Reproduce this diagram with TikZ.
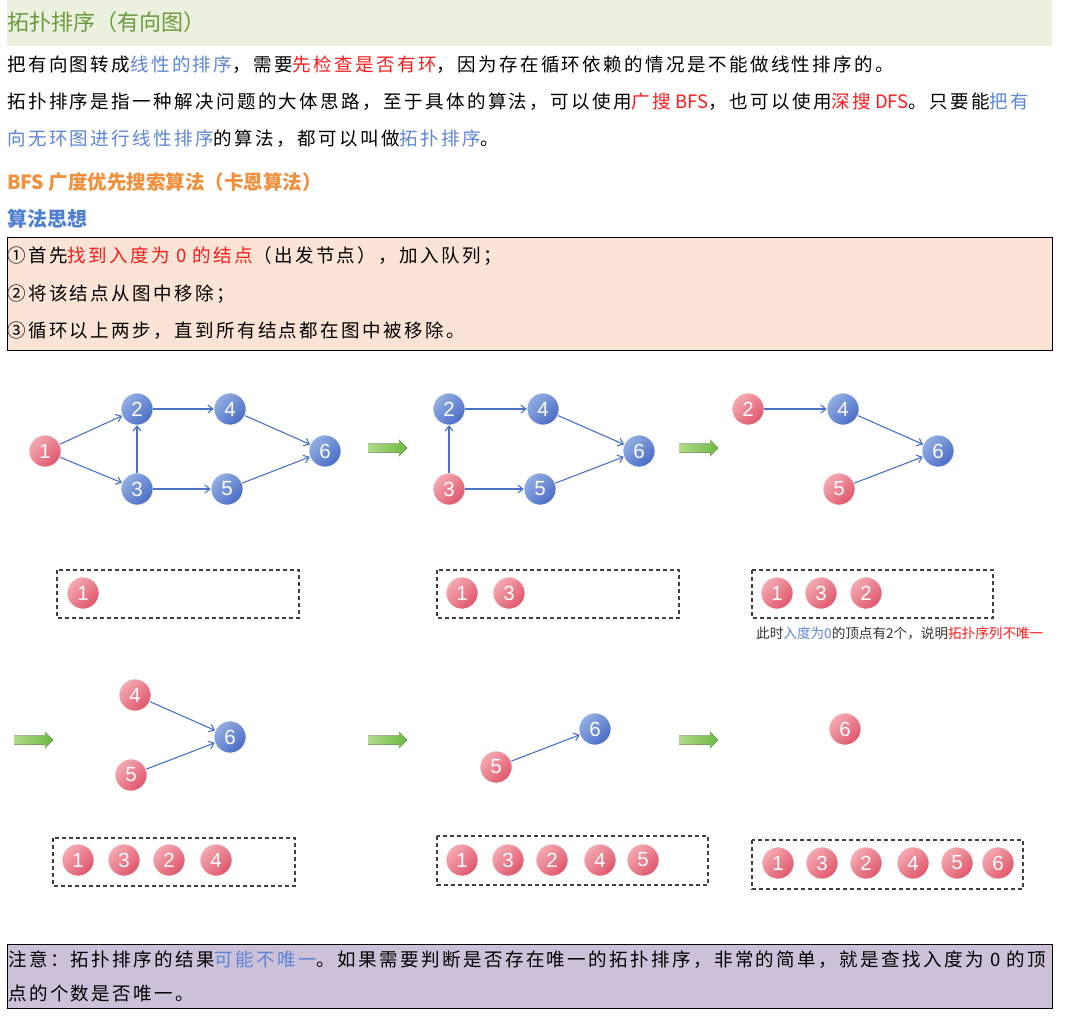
\documentclass[tikz,border=0pt]{standalone}
\usepackage{fontspec}
\setmainfont{Noto Sans CJK SC}
\newfontfamily\bodyfont[LetterSpace=13]{Noto Sans CJK SC}
\newfontfamily\numfont{Liberation Sans}
\usetikzlibrary{arrows.meta}

\definecolor{bandgreen}{HTML}{EBF1DE}
\definecolor{titlegreen}{HTML}{6B9A3C}
\definecolor{txtblue}{HTML}{5C85D6}
\definecolor{txtred}{HTML}{FF1A1A}
\definecolor{headorange}{HTML}{F0903C}
\definecolor{headblue}{HTML}{4F7FD0}
\definecolor{peach}{HTML}{FBE4D5}
\definecolor{lavender}{HTML}{CDC1DA}
\definecolor{vblueA}{HTML}{93AEE2}
\definecolor{vblueB}{HTML}{4A6CC6}
\definecolor{vredA}{HTML}{F4AAB3}
\definecolor{vredB}{HTML}{E0566A}
\definecolor{edgeblue}{HTML}{4A72C8}
\definecolor{garrowA}{HTML}{B0DB88}
\definecolor{garrowB}{HTML}{6DB843}

\newcommand\bfont{\bodyfont\fontsize{18.5}{22}\selectfont}
\newcommand\lat[1]{{\normalfont\fontsize{18.5}{22}\selectfont #1}}

\begin{document}
\begin{tikzpicture}[x=1pt,y=-1pt,>={Straight Barb[length=5pt,width=8pt]},
  line/.style={anchor=west,inner sep=0pt,font=\bfont},
  vtx/.style={circle,minimum size=32pt,inner sep=0pt,draw=white,line width=0.6pt,
    text=white,font=\numfont\fontsize{20.5}{20}\selectfont},
  bvtx/.style={vtx,top color=vblueA,bottom color=vblueB,shading angle=45},
  rvtx/.style={vtx,top color=vredA,bottom color=vredB,shading angle=45},
  edge/.style={->,edgeblue,line width=1.1pt},
  qbox/.style={draw=black!75,dashed,line width=1.2pt,dash pattern=on 4pt off 3pt}]
  \useasboundingbox (0,0) rectangle (1070,1016);

  % heading and text
  \fill[bandgreen] (7,0) rectangle (1052,46);
  \node[anchor=west,inner sep=0pt,titlegreen,font=\fontsize{22}{24}\selectfont] (title) at (7,22) {拓扑排序（有向图）};
  \node[line] (l1) at (7,65) {把有向图转成\textcolor{txtblue}{线性的排序}，需要\textcolor{txtred}{先检查是否有环}，因为存在循环依赖的情况是不能做线性排序的。};
  \node[line] (l2) at (7,102) {拓扑排序是指一种解决问题的大体思路，至于具体的算法，可以使用\textcolor{txtred}{广搜\lat{ BFS}}，也可以使用\textcolor{txtred}{深搜\lat{ DFS}}。只要能\textcolor{txtblue}{把有}};
  \node[line] (l3) at (7,139) {\textcolor{txtblue}{向无环图进行线性排序}的算法，都可以叫做\textcolor{txtblue}{拓扑排序}。};
  \node[anchor=west,inner sep=0pt,headorange,font=\bfseries\fontsize{19.5}{22}\selectfont] (h1) at (7,182) {BFS 广度优先搜索算法（卡恩算法）};
  \node[anchor=west,inner sep=0pt,headblue,font=\bfseries\fontsize{20}{22}\selectfont] (h2) at (7,219) {算法思想};

  \draw[fill=peach,line width=0.8pt] (7,237) rectangle (1052,350);
  \node[line] (s1) at (7,256) {①首先\textcolor{txtred}{找到入度为 0 的结点}（出发节点），加入队列；};
  \node[line] (s2) at (7,294) {②将该结点从图中移除；};
  \node[line] (s3) at (7,331) {③循环以上两步，直到所有结点都在图中被移除。};

  % step arrows
  \foreach \ax/\ay in {368/448,679/448,14/740,368/740,679/740}
    \fill[left color=garrowA,right color=garrowB] (\ax,\ay-4.5) -- (\ax+31,\ay-4.5) -- (\ax+31,\ay-8.5)
      -- (\ax+39,\ay) -- (\ax+31,\ay+8.5) -- (\ax+31,\ay+4.5) -- (\ax,\ay+4.5) -- cycle;

  % graph 1
  \node[rvtx] (a1) at (45,451) {1};
  \node[bvtx] (a2) at (137,409) {2};
  \node[bvtx] (a3) at (137,489) {3};
  \node[bvtx] (a4) at (230,409) {4};
  \node[bvtx] (a5) at (227,489) {5};
  \node[bvtx] (a6) at (325,451) {6};
  \draw[edge] (a1) -- (a2);
  \draw[edge] (a1) -- (a3);
  \draw[edge] (a3) -- (a2);
  \draw[edge] (a2) -- (a4);
  \draw[edge] (a3) -- (a5);
  \draw[edge] (a4) -- (a6);
  \draw[edge] (a5) -- (a6);

  % graph 2
  \node[bvtx] (b2) at (449,409) {2};
  \node[rvtx] (b3) at (449,489) {3};
  \node[bvtx] (b4) at (543,409) {4};
  \node[bvtx] (b5) at (540,489) {5};
  \node[bvtx] (b6) at (639,451) {6};
  \draw[edge] (b3) -- (b2);
  \draw[edge] (b2) -- (b4);
  \draw[edge] (b3) -- (b5);
  \draw[edge] (b4) -- (b6);
  \draw[edge] (b5) -- (b6);

  % graph 3
  \node[rvtx] (c2) at (748,409) {2};
  \node[bvtx] (c4) at (843,409) {4};
  \node[rvtx] (c5) at (839,489) {5};
  \node[bvtx] (c6) at (938,451) {6};
  \draw[edge] (c2) -- (c4);
  \draw[edge] (c4) -- (c6);
  \draw[edge] (c5) -- (c6);

  % graph 4
  \node[rvtx] (d4) at (135,695) {4};
  \node[rvtx] (d5) at (131,775) {5};
  \node[bvtx] (d6) at (230,737) {6};
  \draw[edge] (d4) -- (d6);
  \draw[edge] (d5) -- (d6);

  % graph 5
  \node[rvtx] (e5) at (496,767) {5};
  \node[bvtx] (e6) at (595,729) {6};
  \draw[edge] (e5) -- (e6);

  % graph 6
  \node[rvtx] (f6) at (845,729) {6};

  % queues
  \draw[qbox] (57,570) rectangle (299,618);
  \node[rvtx] (qa1) at (83,593) {1};
  \draw[qbox] (437,570) rectangle (679,618);
  \foreach \n/\x in {1/462,3/509}
    \node[rvtx] (qb\n) at (\x,593) {\n};
  \draw[qbox] (752,570) rectangle (993,618);
  \foreach \n/\x in {1/777,3/821,2/866}
    \node[rvtx] (qc\n) at (\x,593) {\n};
  \node[anchor=west,inner sep=0pt,black!80,font=\fontsize{13.6}{16}\selectfont] (note) at (756,633)
    {此时\textcolor{txtblue}{入度为0}的顶点有2个，说明\textcolor{txtred}{拓扑序列不唯一}};

  \draw[qbox] (53,838) rectangle (295,886);
  \foreach \n/\x in {1/78,3/124,2/169,4/216}
    \node[rvtx] (qd\n) at (\x,860) {\n};
  \draw[qbox] (437,836) rectangle (708,885);
  \foreach \n/\x in {1/462,3/508,2/552,4/600,5/643}
    \node[rvtx] (qe\n) at (\x,860) {\n};
  \draw[qbox] (752,840) rectangle (1023,889);
  \foreach \n/\x in {1/778,3/822,2/866,4/913,5/957,6/998}
    \node[rvtx] (qf\n) at (\x,863) {\n};

  % remark
  \draw[fill=lavender,line width=0.8pt] (7,944) rectangle (1052,1008);
  \node[line] (r1) at (8,960) {注意：拓扑排序的结果\textcolor{txtblue}{可能不唯一}。如果需要判断是否存在唯一的拓扑排序，非常的简单，就是查找入度为 0 的顶};
  \node[line] (r2) at (8,993) {点的个数是否唯一。};
\end{tikzpicture}
\end{document}
